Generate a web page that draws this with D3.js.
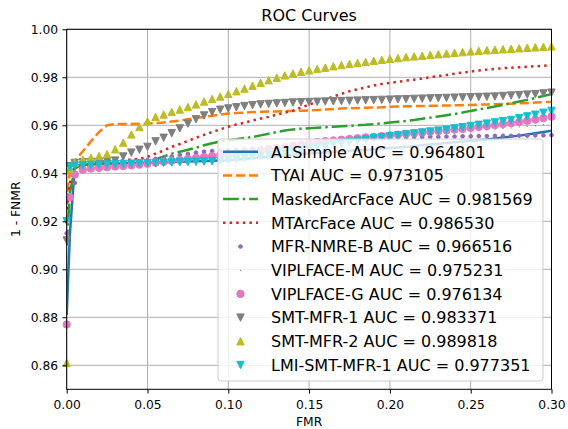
<!DOCTYPE html>
<html>
<head>
<meta charset="utf-8">
<script src="https://cdn.jsdelivr.net/npm/d3@7"></script>
<style>
  body { margin: 0; background: #fff; }
  svg { font-family: "DejaVu Sans", sans-serif; }
</style>
</head>
<body>
<svg width="568" height="429"></svg>
<script>
// FMR values where every curve was sampled
let fmr = [0, 0.002, 0.005, 0.010, 0.015, 0.020, 0.025, 0.030, 0.035, 0.040, 0.045, 0.050,
  0.055, 0.060, 0.065, 0.070, 0.075, 0.080, 0.085, 0.090, 0.095, 0.100,
  0.105, 0.110, 0.115, 0.120, 0.125, 0.130, 0.135, 0.140, 0.145, 0.150,
  0.155, 0.160, 0.165, 0.170, 0.175, 0.180, 0.185, 0.190, 0.195, 0.200,
  0.205, 0.210, 0.215, 0.220, 0.225, 0.230, 0.235, 0.240, 0.245, 0.250,
  0.255, 0.260, 0.265, 0.270, 0.275, 0.280, 0.285, 0.290, 0.295, 0.300];

// 1 - FNMR for each method
let a1Simple = [0.881, 0.915, 0.9430, 0.9435, 0.9437, 0.9438, 0.9439, 0.9440, 0.9441, 0.9442, 0.9443, 0.9444,
  0.9445, 0.9446, 0.9447, 0.9448, 0.9449, 0.9450, 0.9451, 0.9452, 0.9453, 0.9454,
  0.9457, 0.9460, 0.9463, 0.9466, 0.9469, 0.9472, 0.9474, 0.9477, 0.9480, 0.9482,
  0.9485, 0.9487, 0.9490, 0.9492, 0.9494, 0.9496, 0.9498, 0.9500, 0.9502, 0.9505,
  0.9508, 0.9511, 0.9514, 0.9517, 0.9520, 0.9523, 0.9526, 0.9529, 0.9532, 0.9535,
  0.9538, 0.9541, 0.9545, 0.9549, 0.9553, 0.9557, 0.9562, 0.9567, 0.9572, 0.9577];
let tyai = [0.927, 0.942, 0.9452, 0.9492, 0.9533, 0.9572, 0.9600, 0.9605, 0.9605, 0.9605, 0.9606, 0.9607,
  0.9609, 0.9612, 0.9616, 0.9620, 0.9625, 0.9630, 0.9635, 0.9640, 0.9645, 0.9649,
  0.9651, 0.9653, 0.9655, 0.9656, 0.9657, 0.9658, 0.9659, 0.9660, 0.9661, 0.9662,
  0.9664, 0.9666, 0.9668, 0.9670, 0.9671, 0.9672, 0.9673, 0.9674, 0.9675, 0.9677,
  0.9678, 0.9679, 0.9680, 0.9680, 0.9681, 0.9682, 0.9682, 0.9683, 0.9684, 0.9685,
  0.9686, 0.9687, 0.9688, 0.9689, 0.9690, 0.9692, 0.9693, 0.9695, 0.9696, 0.9698];
let maskedArcFace = [0.910, 0.932, 0.9420, 0.9437, 0.9439, 0.9440, 0.9441, 0.9442, 0.9443, 0.9443, 0.9444, 0.9448,
  0.9458, 0.9470, 0.9482, 0.9490, 0.9498, 0.9507, 0.9517, 0.9525, 0.9532, 0.9538,
  0.9542, 0.9547, 0.9551, 0.9558, 0.9565, 0.9572, 0.9578, 0.9583, 0.9586, 0.9588,
  0.9590, 0.9592, 0.9594, 0.9596, 0.9598, 0.9600, 0.9602, 0.9605, 0.9608, 0.9612,
  0.9615, 0.9618, 0.9622, 0.9627, 0.9632, 0.9637, 0.9642, 0.9647, 0.9653, 0.9660,
  0.9666, 0.9672, 0.9678, 0.9685, 0.9692, 0.9699, 0.9706, 0.9714, 0.9722, 0.9730];
let mtArcFace = [0.925, 0.936, 0.9435, 0.9445, 0.9447, 0.9449, 0.9451, 0.9453, 0.9455, 0.9457, 0.9460, 0.9468,
  0.9482, 0.9495, 0.9510, 0.9522, 0.9535, 0.9548, 0.9560, 0.9572, 0.9583, 0.9594,
  0.9603, 0.9611, 0.9620, 0.9628, 0.9635, 0.9644, 0.9653, 0.9661, 0.9674, 0.9686,
  0.9697, 0.9708, 0.9720, 0.9731, 0.9742, 0.9750, 0.9758, 0.9766, 0.9772, 0.9777,
  0.9781, 0.9786, 0.9790, 0.9795, 0.9800, 0.9805, 0.9810, 0.9815, 0.9820, 0.9824,
  0.9828, 0.9832, 0.9835, 0.9838, 0.9840, 0.9842, 0.9844, 0.9846, 0.9848, 0.9850];
let mfrNmreB = [0.915, 0.930, 0.9360, 0.9420, 0.9425, 0.9430, 0.9435, 0.9440, 0.9443, 0.9447, 0.9450, 0.9455,
  0.9460, 0.9465, 0.9470, 0.9476, 0.9481, 0.9486, 0.9490, 0.9493, 0.9494, 0.9495,
  0.9497, 0.9500, 0.9503, 0.9506, 0.9509, 0.9512, 0.9515, 0.9518, 0.9521, 0.9524,
  0.9527, 0.9530, 0.9533, 0.9536, 0.9539, 0.9541, 0.9543, 0.9545, 0.9547, 0.9548,
  0.9549, 0.9550, 0.9551, 0.9551, 0.9552, 0.9552, 0.9553, 0.9553, 0.9554, 0.9554,
  0.9555, 0.9555, 0.9556, 0.9556, 0.9556, 0.9557, 0.9557, 0.9558, 0.9558, 0.9559];
let viplfaceM = [0.905, 0.934, 0.9410, 0.9430, 0.9433, 0.9437, 0.9440, 0.9442, 0.9446, 0.9449, 0.9451, 0.9455,
  0.9457, 0.9461, 0.9464, 0.9466, 0.9470, 0.9473, 0.9475, 0.9479, 0.9482, 0.9484,
  0.9488, 0.9490, 0.9494, 0.9497, 0.9499, 0.9503, 0.9506, 0.9508, 0.9512, 0.9515,
  0.9517, 0.9521, 0.9524, 0.9526, 0.9530, 0.9533, 0.9535, 0.9539, 0.9542, 0.9544,
  0.9548, 0.9551, 0.9553, 0.9557, 0.9560, 0.9562, 0.9566, 0.9569, 0.9571, 0.9575,
  0.9578, 0.9580, 0.9584, 0.9587, 0.9589, 0.9593, 0.9596, 0.9598, 0.9602, 0.9605];
let viplfaceG = [0.877, 0.930, 0.9395, 0.9415, 0.9420, 0.9423, 0.9425, 0.9428, 0.9430, 0.9433, 0.9436, 0.9440,
  0.9444, 0.9448, 0.9452, 0.9456, 0.9460, 0.9464, 0.9468, 0.9472, 0.9476, 0.9480,
  0.9484, 0.9488, 0.9492, 0.9496, 0.9500, 0.9505, 0.9510, 0.9515, 0.9520, 0.9525,
  0.9530, 0.9534, 0.9537, 0.9540, 0.9543, 0.9546, 0.9549, 0.9552, 0.9555, 0.9558,
  0.9561, 0.9564, 0.9567, 0.9570, 0.9573, 0.9576, 0.9579, 0.9582, 0.9585, 0.9589,
  0.9593, 0.9597, 0.9601, 0.9605, 0.9609, 0.9614, 0.9619, 0.9624, 0.9630, 0.9636];
let smtMfr1 = [0.912, 0.943, 0.9443, 0.9446, 0.9447, 0.9448, 0.9450, 0.9453, 0.9470, 0.9486, 0.9498, 0.9510,
  0.9533, 0.9548, 0.9567, 0.9587, 0.9607, 0.9625, 0.9641, 0.9655, 0.9665, 0.9670,
  0.9675, 0.9680, 0.9684, 0.9687, 0.9689, 0.9691, 0.9693, 0.9695, 0.9696, 0.9697,
  0.9698, 0.9699, 0.9700, 0.9701, 0.9702, 0.9703, 0.9704, 0.9705, 0.9706, 0.9707,
  0.9708, 0.9709, 0.9710, 0.9711, 0.9712, 0.9713, 0.9714, 0.9715, 0.9716, 0.9717,
  0.9718, 0.9719, 0.9720, 0.9722, 0.9724, 0.9726, 0.9728, 0.9730, 0.9733, 0.9736];
let smtMfr2 = [0.861, 0.942, 0.9445, 0.9457, 0.9465, 0.9472, 0.9480, 0.9500, 0.9528, 0.9562, 0.9593, 0.9617,
  0.9635, 0.9645, 0.9656, 0.9666, 0.9676, 0.9687, 0.9699, 0.9710, 0.9720, 0.9731,
  0.9742, 0.9753, 0.9765, 0.9777, 0.9788, 0.9798, 0.9808, 0.9816, 0.9823, 0.9829,
  0.9835, 0.9840, 0.9846, 0.9851, 0.9856, 0.9860, 0.9864, 0.9869, 0.9873, 0.9877,
  0.9880, 0.9884, 0.9887, 0.9890, 0.9893, 0.9896, 0.9899, 0.9902, 0.9905, 0.9908,
  0.9910, 0.9913, 0.9915, 0.9917, 0.9919, 0.9921, 0.9923, 0.9925, 0.9927, 0.9929];
let lmiSmtMfr1 = [0.920, 0.9425, 0.9432, 0.9434, 0.9435, 0.9436, 0.9437, 0.9438, 0.9439, 0.9440, 0.9441, 0.9442,
  0.9443, 0.9444, 0.9445, 0.9446, 0.9447, 0.9448, 0.9449, 0.9450, 0.9452, 0.9455,
  0.9459, 0.9463, 0.9468, 0.9473, 0.9478, 0.9483, 0.9488, 0.9493, 0.9498, 0.9503,
  0.9508, 0.9513, 0.9518, 0.9524, 0.9530, 0.9536, 0.9541, 0.9546, 0.9550, 0.9554,
  0.9558, 0.9562, 0.9566, 0.9570, 0.9574, 0.9578, 0.9582, 0.9587, 0.9592, 0.9597,
  0.9602, 0.9607, 0.9612, 0.9617, 0.9622, 0.9630, 0.9637, 0.9644, 0.9652, 0.9660];

let names = ["A1Simple", "TYAI", "MaskedArcFace", "MTArcFace", "MFR-NMRE-B",
  "VIPLFACE-M", "VIPLFACE-G", "SMT-MFR-1", "SMT-MFR-2", "LMI-SMT-MFR-1"];
let aucs = ["0.964801", "0.973105", "0.981569", "0.986530", "0.966516",
  "0.975231", "0.976134", "0.983371", "0.989818", "0.977351"];
let xTicks = [0, 0.05, 0.10, 0.15, 0.20, 0.25, 0.30];
let yTicks = [0.86, 0.88, 0.90, 0.92, 0.94, 0.96, 0.98, 1.00];

/******************/

let allValues = [a1Simple, tyai, maskedArcFace, mtArcFace, mfrNmreB,
  viplfaceM, viplfaceG, smtMfr1, smtMfr2, lmiSmtMfr1];
let colors = ["#1f77b4", "#ff7f0e", "#2ca02c", "#d62728", "#9467bd",
  "#8c564b", "#e377c2", "#7f7f7f", "#bcbd22", "#17becf"];
// line style or marker for each series, same order as names
let styles = [
  {dash: "none"}, {dash: "9.1,3.9"}, {dash: "15.8,3.9,2.5,3.9"}, {dash: "2.5,4.1"},
  {marker: "point"}, {marker: "pixel"}, {marker: "circle"},
  {marker: "down"}, {marker: "up"}, {marker: "down"}
];

let margin = {top: 29.3, right: 16.5, bottom: 39.7, left: 66.7};
let width = 568 - margin.left - margin.right;
let height = 429 - margin.top - margin.bottom;

let xScale = d3.scaleLinear().domain([0, 0.3]).range([0, width]);
let yScale = d3.scaleLinear().domain([0.85, 1.0]).range([height, 0]);

let svg = d3.select("svg");
let parent = svg.append("g")
  .attr("transform", `translate(${margin.left}, ${margin.top})`);

svg.append("defs").append("clipPath").attr("id", "plot-clip")
  .append("rect").attr("width", width).attr("height", height);

// grid
parent.append("g").selectAll("line").data(xTicks).enter().append("line")
  .attr("x1", d => xScale(d)).attr("x2", d => xScale(d))
  .attr("y1", 0).attr("y2", height)
  .attr("stroke", "#b0b0b0").attr("stroke-width", 1);
parent.append("g").selectAll("line").data(yTicks).enter().append("line")
  .attr("x1", 0).attr("x2", width)
  .attr("y1", d => yScale(d)).attr("y2", d => yScale(d))
  .attr("stroke", "#b0b0b0").attr("stroke-width", 1);

// curves
function markerPath(kind, s) {
  if (kind === "up") return `M0,${-s}L${-s},${s}L${s},${s}Z`;
  return `M0,${s}L${-s},${-s}L${s},${-s}Z`;
}

function drawMarker(g, kind, color) {
  if (kind === "circle") {
    g.append("circle").attr("r", 3.7).attr("fill", color)
      .attr("stroke", color).attr("stroke-width", 1);
  } else if (kind === "point") {
    g.append("circle").attr("r", 1.85).attr("fill", color)
      .attr("stroke", color).attr("stroke-width", 1);
  } else if (kind === "pixel") {
    g.append("rect").attr("x", -0.5).attr("y", -0.5)
      .attr("width", 1).attr("height", 1).attr("fill", color);
  } else {
    g.append("path").attr("d", markerPath(kind, 3.7)).attr("fill", color)
      .attr("stroke", color).attr("stroke-width", 1);
  }
}

let line = d3.line().x(d => xScale(d[0])).y(d => yScale(d[1]));

allValues.forEach((vals, k) => {
  let pts = fmr.map((f, i) => [f, vals[i]]);
  let st = styles[k];
  if (st.marker) {
    parent.append("g").selectAll("g").data(pts).enter().append("g")
      .attr("transform", d => `translate(${xScale(d[0])}, ${yScale(d[1])})`)
      .each(function () { drawMarker(d3.select(this), st.marker, colors[k]); });
  } else {
    parent.append("path")
      .attr("clip-path", "url(#plot-clip)")
      .attr("d", line(pts))
      .attr("fill", "none")
      .attr("stroke", colors[k])
      .attr("stroke-width", 2.5)
      .attr("stroke-dasharray", st.dash);
  }
});

// axes
let xAxis = d3.axisBottom(xScale).tickValues(xTicks)
  .tickFormat(d3.format(".2f")).tickSize(4.3).tickSizeOuter(0).tickPadding(6.5);
let yAxis = d3.axisLeft(yScale).tickValues(yTicks)
  .tickFormat(d3.format(".2f")).tickSize(4.3).tickSizeOuter(0).tickPadding(4.3);

parent.append("g").attr("transform", `translate(0, ${height})`).call(xAxis);
parent.append("g").call(yAxis);
parent.selectAll(".tick text").attr("font-size", 12.3)
  .attr("font-family", "DejaVu Sans").attr("fill", "#000");
parent.selectAll(".tick line").attr("stroke", "#000");
parent.selectAll(".domain").remove();

// frame
parent.append("rect").attr("width", width).attr("height", height)
  .attr("fill", "none").attr("stroke", "#000").attr("stroke-width", 1);

// labels
svg.append("text").attr("x", margin.left + width / 2).attr("y", 21)
  .attr("text-anchor", "middle").attr("font-size", 16).text("ROC Curves");
svg.append("text").attr("x", margin.left + width / 2).attr("y", 426)
  .attr("text-anchor", "middle").attr("font-size", 12.3).text("FMR");
svg.append("text")
  .attr("transform", `translate(20, ${margin.top + height / 2}) rotate(-90)`)
  .attr("text-anchor", "middle").attr("font-size", 12.3).text("1 - FNMR");

// legend
let legend = svg.append("g").attr("transform", "translate(218, 139)");
legend.append("rect").attr("width", 325).attr("height", 242).attr("rx", 3)
  .attr("fill", "#fff").attr("fill-opacity", 0.8)
  .attr("stroke", "#cccccc").attr("stroke-width", 1);

names.forEach((name, k) => {
  let row = legend.append("g").attr("transform", `translate(0, ${12.7 + k * 23.7})`);
  let st = styles[k];
  if (st.marker) {
    let m = row.append("g").attr("transform", "translate(22.5, 0)");
    drawMarker(m, st.marker, colors[k]);
  } else {
    row.append("line").attr("x1", 5).attr("x2", 40)
      .attr("stroke", colors[k]).attr("stroke-width", 2.5)
      .attr("stroke-dasharray", st.dash);
  }
  row.append("text").attr("x", 53).attr("y", 5.8)
    .attr("font-size", 16).text(`${name} AUC = ${aucs[k]}`);
});
</script>
</body>
</html>
